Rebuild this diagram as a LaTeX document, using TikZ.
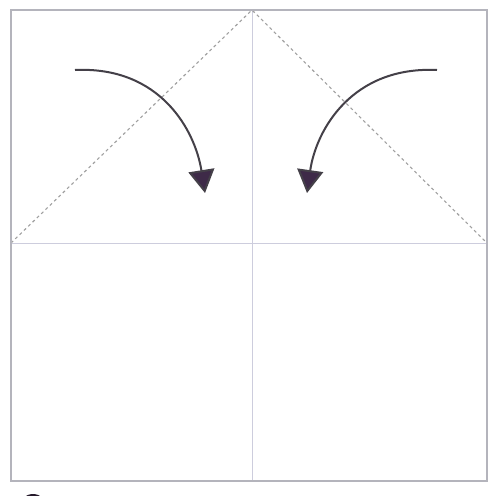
\documentclass[tikz,border=0pt]{standalone}
\usetikzlibrary{arrows.meta}
\definecolor{frame}{HTML}{B4B4BC}
\definecolor{crease}{HTML}{CDCDDD}
\definecolor{dash}{HTML}{A0A0A0}
\definecolor{arr}{HTML}{3E2A48}
\definecolor{arrline}{HTML}{444048}
\tikzset{
  frameline/.style={draw=frame, line width=1.6pt},
  creaseline/.style={draw=crease, line width=1pt},
  valley/.style={draw=dash, line width=1.1pt, dash pattern=on 3pt off 3pt},
  foldarrow/.style={draw=arrline, line width=2pt, -{Triangle[width=26pt,length=23pt,fill=arr]}}
}
\begin{document}
\begin{tikzpicture}[x=1pt,y=-1pt]
\useasboundingbox (0,0) rectangle (493,496);
\fill[white] (0,0) rectangle (493,496);
\coordinate (tl) at (11,10);
\coordinate (br) at (487,481);
\coordinate (tm) at (252,10);
\coordinate (bm) at (252,481);
\coordinate (lm) at (11,243);
\coordinate (rm) at (487,243);
% creases
\draw[creaseline] (tm) -- (bm);
\draw[creaseline] (lm) -- (rm);
% valley folds
\draw[valley] (lm) -- (tm) -- (rm);
% frame
\draw[frameline] (tl) rectangle (br);
% arrows
\coordinate (a1s) at (75,70);
\coordinate (a1e) at (205,193);
\coordinate (a2s) at (437,70);
\coordinate (a2e) at (307,193);
\draw[foldarrow] (a1s) .. controls (160,66) and (195,130) .. (a1e);
\draw[foldarrow] (a2s) .. controls (352,66) and (316,130) .. (a2e);
% partial step marker at bottom
\begin{scope}
\clip (0,0) rectangle (493,496);
\fill[arr!60!black] (33,508) circle (14);
\end{scope}
\end{tikzpicture}
\end{document}
